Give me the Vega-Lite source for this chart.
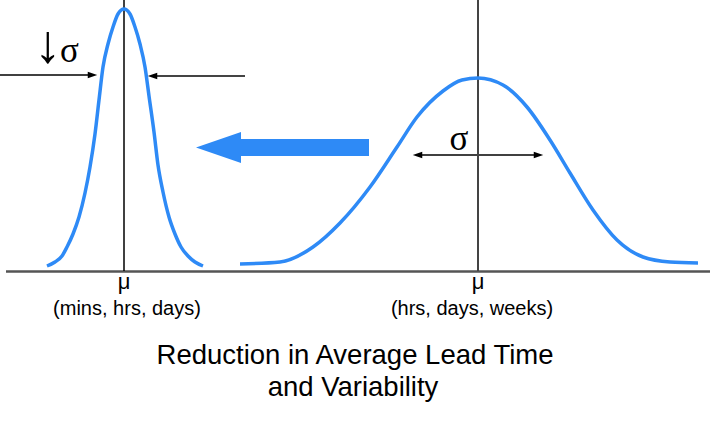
{
  "$schema": "https://vega.github.io/schema/vega-lite/v6.json",
  "width": 710,
  "height": 431,
  "autosize": {"type": "none"},
  "padding": 0,
  "background": "white",
  "config": {"view": {"stroke": null}},
  "datasets": {
    "small": [
      {"x": 47, "y": 266}, {"x": 55, "y": 262}, {"x": 62, "y": 256}, {"x": 67, "y": 247},
      {"x": 73, "y": 234}, {"x": 79, "y": 217}, {"x": 85, "y": 193}, {"x": 90, "y": 167},
      {"x": 95, "y": 134}, {"x": 99, "y": 100}, {"x": 103, "y": 67}, {"x": 108, "y": 44},
      {"x": 113, "y": 27}, {"x": 118, "y": 14}, {"x": 124, "y": 9}, {"x": 130, "y": 14},
      {"x": 135, "y": 27}, {"x": 140, "y": 44}, {"x": 145, "y": 67}, {"x": 149, "y": 96},
      {"x": 154, "y": 132}, {"x": 158, "y": 165}, {"x": 163, "y": 192}, {"x": 169, "y": 217},
      {"x": 175, "y": 234}, {"x": 181, "y": 247}, {"x": 188, "y": 256}, {"x": 195, "y": 262},
      {"x": 203, "y": 266}
    ],
    "big": [
      {"x": 240, "y": 264}, {"x": 280, "y": 262}, {"x": 313, "y": 247}, {"x": 340, "y": 223},
      {"x": 370, "y": 187}, {"x": 397, "y": 147}, {"x": 417, "y": 117}, {"x": 443, "y": 91},
      {"x": 462, "y": 80}, {"x": 478, "y": 78}, {"x": 503, "y": 85}, {"x": 527, "y": 107},
      {"x": 550, "y": 140}, {"x": 570, "y": 173}, {"x": 593, "y": 210}, {"x": 617, "y": 240},
      {"x": 643, "y": 257}, {"x": 670, "y": 262}, {"x": 698, "y": 263}
    ],
    "bigArrow": [
      {"x": 196, "top": 147.5, "bottom": 147.5},
      {"x": 241, "top": 132, "bottom": 163},
      {"x": 241.01, "top": 139, "bottom": 156},
      {"x": 369, "top": 139, "bottom": 156}
    ],
    "rules": [
      {"part": "base", "x": 6, "y": 271.5, "x2": 710, "y2": 271.5},
      {"part": "black", "x": 124, "y": 0, "x2": 124, "y2": 271},
      {"part": "gray", "x": 478, "y": 0, "x2": 478, "y2": 271},
      {"part": "black", "x": 0, "y": 75, "x2": 92, "y2": 75},
      {"part": "gray", "x": 245, "y": 76, "x2": 152, "y2": 76},
      {"part": "black", "x": 416, "y": 155, "x2": 540, "y2": 155}
    ],
    "headsRight": [
      {"x": 92.5, "y": 75}, {"x": 538.5, "y": 155}
    ],
    "headsLeft": [
      {"x": 152.5, "y": 76}, {"x": 417.5, "y": 155}
    ],
    "arrowGlyph": [
      {"x": 48, "y": 62, "label": "↓"}
    ],
    "greek": [
      {"x": 69.5, "y": 62, "label": "σ"},
      {"x": 459, "y": 150, "label": "σ"}
    ],
    "mu": [
      {"x": 124, "y": 289, "label": "μ"},
      {"x": 478, "y": 289, "label": "μ"}
    ],
    "labels": [
      {"x": 127, "y": 309, "label": "(mins, hrs, days)"},
      {"x": 472, "y": 309, "label": "(hrs, days, weeks)"}
    ],
    "title": [
      {"x": 355, "y": 356, "label": "Reduction in Average Lead Time"},
      {"x": 353, "y": 388, "label": "and Variability"}
    ]
  },
  "layer": [
    {
      "data": {"name": "rules"},
      "transform": [{"filter": "datum.part === 'base'"}],
      "mark": {"type": "rule", "color": "#555555", "strokeWidth": 2.5},
      "encoding": {
        "x": {"field": "x", "type": "quantitative", "scale": {"domain": [0, 710], "nice": false, "zero": false}, "axis": null},
        "y": {"field": "y", "type": "quantitative", "scale": {"domain": [0, 431], "nice": false, "zero": false, "reverse": true}, "axis": null},
        "x2": {"field": "x2"},
        "y2": {"field": "y2"}
      }
    },
    {
      "data": {"name": "rules"},
      "transform": [{"filter": "datum.part === 'black'"}],
      "mark": {"type": "rule", "color": "#000000", "strokeWidth": 1.5},
      "encoding": {
        "x": {"field": "x", "type": "quantitative"},
        "y": {"field": "y", "type": "quantitative"},
        "x2": {"field": "x2"},
        "y2": {"field": "y2"}
      }
    },
    {
      "data": {"name": "rules"},
      "transform": [{"filter": "datum.part === 'gray'"}],
      "mark": {"type": "rule", "color": "#444444", "strokeWidth": 2},
      "encoding": {
        "x": {"field": "x", "type": "quantitative"},
        "y": {"field": "y", "type": "quantitative"},
        "x2": {"field": "x2"},
        "y2": {"field": "y2"}
      }
    },
    {
      "data": {"name": "headsRight"},
      "mark": {"type": "point", "filled": true, "color": "#000000", "opacity": 1, "size": 90, "shape": "M 1 0 L -1 -0.7 L -1 0.7 Z"},
      "encoding": {
        "x": {"field": "x", "type": "quantitative"},
        "y": {"field": "y", "type": "quantitative"}
      }
    },
    {
      "data": {"name": "headsLeft"},
      "mark": {"type": "point", "filled": true, "color": "#000000", "opacity": 1, "size": 90, "shape": "M -1 0 L 1 -0.7 L 1 0.7 Z"},
      "encoding": {
        "x": {"field": "x", "type": "quantitative"},
        "y": {"field": "y", "type": "quantitative"}
      }
    },
    {
      "data": {"name": "small"},
      "mark": {"type": "line", "color": "#2e8af6", "strokeWidth": 3.5, "interpolate": "monotone"},
      "encoding": {
        "x": {"field": "x", "type": "quantitative"},
        "y": {"field": "y", "type": "quantitative"}
      }
    },
    {
      "data": {"name": "big"},
      "mark": {"type": "line", "color": "#2e8af6", "strokeWidth": 3.5, "interpolate": "monotone"},
      "encoding": {
        "x": {"field": "x", "type": "quantitative"},
        "y": {"field": "y", "type": "quantitative"}
      }
    },
    {
      "data": {"name": "bigArrow"},
      "mark": {"type": "area", "color": "#2e8af6", "opacity": 1, "interpolate": "linear"},
      "encoding": {
        "x": {"field": "x", "type": "quantitative"},
        "y": {"field": "top", "type": "quantitative"},
        "y2": {"field": "bottom"}
      }
    },
    {
      "data": {"name": "arrowGlyph"},
      "mark": {"type": "text", "font": "Liberation Serif", "fontSize": 54, "color": "#000000", "baseline": "alphabetic", "align": "center"},
      "encoding": {
        "x": {"field": "x", "type": "quantitative"},
        "y": {"field": "y", "type": "quantitative"},
        "text": {"field": "label"}
      }
    },
    {
      "data": {"name": "greek"},
      "mark": {"type": "text", "font": "Liberation Serif", "fontSize": 35, "color": "#000000", "baseline": "alphabetic", "align": "center"},
      "encoding": {
        "x": {"field": "x", "type": "quantitative"},
        "y": {"field": "y", "type": "quantitative"},
        "text": {"field": "label"}
      }
    },
    {
      "data": {"name": "mu"},
      "mark": {"type": "text", "font": "Liberation Sans", "fontSize": 22, "color": "#000000", "baseline": "alphabetic", "align": "center"},
      "encoding": {
        "x": {"field": "x", "type": "quantitative"},
        "y": {"field": "y", "type": "quantitative"},
        "text": {"field": "label"}
      }
    },
    {
      "data": {"name": "labels"},
      "mark": {"type": "text", "font": "Liberation Sans", "fontSize": 20, "color": "#000000", "baseline": "middle", "align": "center"},
      "encoding": {
        "x": {"field": "x", "type": "quantitative"},
        "y": {"field": "y", "type": "quantitative"},
        "text": {"field": "label"}
      }
    },
    {
      "data": {"name": "title"},
      "mark": {"type": "text", "font": "Liberation Sans", "fontSize": 27.5, "color": "#000000", "baseline": "middle", "align": "center"},
      "encoding": {
        "x": {"field": "x", "type": "quantitative"},
        "y": {"field": "y", "type": "quantitative"},
        "text": {"field": "label"}
      }
    }
  ]
}
